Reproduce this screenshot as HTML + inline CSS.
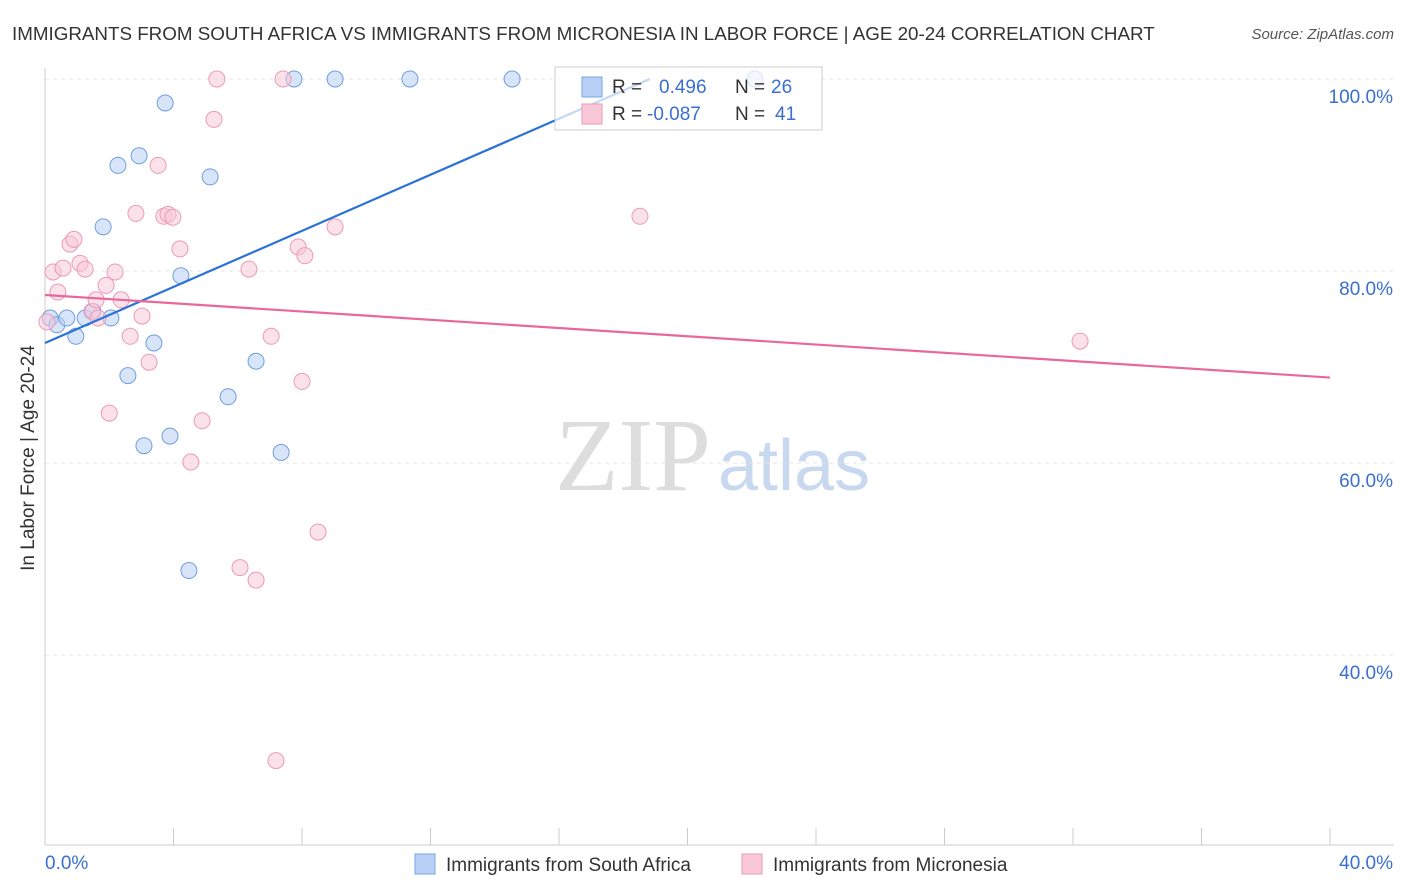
<!DOCTYPE html>
<html><head><meta charset="utf-8"><style>
body{margin:0;background:#fff;font-family:"Liberation Sans",sans-serif;}
#wrap{position:relative;width:1406px;height:892px;overflow:hidden;}
</style></head><body>
<div id="wrap">
<svg id="svg" width="1406" height="892" xmlns="http://www.w3.org/2000/svg">
<text x="12" y="40" font-size="18.8" fill="#333">IMMIGRANTS FROM SOUTH AFRICA VS IMMIGRANTS FROM MICRONESIA IN LABOR FORCE | AGE 20-24 CORRELATION CHART</text>
<text x="1394" y="39" font-size="15" fill="#555" font-style="italic" text-anchor="end">Source: ZipAtlas.com</text>
<text x="34" y="458" font-size="19" fill="#333" text-anchor="middle" transform="rotate(-90 34 458)">In Labor Force | Age 20-24</text>
<text x="555" y="490" font-size="104" fill="#ddd" font-family="Liberation Serif">ZIP</text>
<text x="718" y="490" font-size="72" fill="#c8d8ee">atlas</text>
<g id="grid"></g><g id="axes"></g><g id="pts"></g><g id="lines"></g>
<g>
<rect x="555" y="67" width="267" height="63" fill="#fff" fill-opacity="0.72" stroke="#ccc"/>
<rect x="582" y="77" width="20" height="20" fill="#b8d0f4" stroke="#7aa6e6"/>
<rect x="582" y="104" width="20" height="20" fill="#f8c8d8" stroke="#ec9ab6"/>
<text x="612" y="93" font-size="19" fill="#333">R =</text>
<text x="659" y="93" font-size="19" fill="#3a6fd0">0.496</text>
<text x="735" y="93" font-size="19" fill="#333">N =</text>
<text x="771" y="93" font-size="19" fill="#3a6fd0">26</text>
<text x="612" y="120" font-size="19" fill="#333">R =</text>
<text x="647" y="120" font-size="19" fill="#3a6fd0">-0.087</text>
<text x="735" y="120" font-size="19" fill="#333">N =</text>
<text x="775" y="120" font-size="19" fill="#3a6fd0">41</text>
</g>
<g>
<rect x="415" y="854" width="20" height="20" fill="#b8d0f4" stroke="#7aa6e6"/>
<text x="446" y="871" font-size="19" fill="#333">Immigrants from South Africa</text>
<rect x="742" y="854" width="20" height="20" fill="#f8c8d8" stroke="#ec9ab6"/>
<text x="773" y="871" font-size="19" fill="#333">Immigrants from Micronesia</text>
</g>
</svg></div>
<script>
const blueX=[0.16,0.37,0.68,0.96,1.25,1.49,1.81,2.05,2.27,2.58,2.93,3.08,3.39,3.74,3.89,4.23,4.48,5.14,5.70,6.57,7.35,7.75,9.03,11.36,14.54,22.1];
const blueY=[75.1,74.4,75.1,73.2,75.1,75.8,84.6,75.1,91.0,69.1,92.0,61.8,72.5,97.5,62.8,79.5,48.8,89.8,66.9,70.6,61.1,100,100,100,100,100];
const pinkX=[0.06,0.25,0.40,0.56,0.78,0.90,1.09,1.25,1.46,1.59,1.65,1.90,2.00,2.18,2.37,2.65,2.83,3.02,3.24,3.52,3.70,3.83,3.98,4.20,4.54,4.89,5.26,5.35,6.07,6.35,6.57,7.04,7.19,7.41,7.88,8.00,8.09,8.50,9.03,18.52,32.22];
const pinkY=[74.7,79.9,77.8,80.3,82.8,83.3,80.8,80.2,75.8,77.0,75.1,78.5,65.2,79.9,77.0,73.2,86.0,75.3,70.5,91.0,85.7,85.9,85.6,82.3,60.1,64.4,95.8,100,49.1,80.2,47.8,73.2,29.0,100,82.5,68.5,81.6,52.8,84.6,85.7,72.7];
const yTicks=[100,80,60,40];
const yTickLabels=["100.0%","80.0%","60.0%","40.0%"];
const xTickVals=[0,4,8,12,16,20,24,28,32,36,40];
const blueLine=[[0,72.5],[18.83,100]];
const pinkLine=[[0,77.5],[40,68.9]];
const NS="http://www.w3.org/2000/svg";
const sx=v=>45+v*32.125, sy=v=>79+(100-v)*9.6;
function mk(t,a,p){const e=document.createElementNS(NS,t);for(const k in a)e.setAttribute(k,a[k]);p.appendChild(e);return e;}
const grid=document.getElementById('grid'),axes=document.getElementById('axes'),pts=document.getElementById('pts'),lines=document.getElementById('lines');
yTicks.forEach((v,i)=>{
 const l=mk('line',{x1:45,x2:1394,y1:sy(v),y2:sy(v),stroke:'#e4e4e4','stroke-dasharray':'4,4'},grid);
 
 
 const t=mk('text',{x:1393,y:sy(v)+24,'font-size':19,fill:'#3a6fd0','text-anchor':'end'},grid);
 t.textContent=yTickLabels[i];
 
 
});
mk('line',{x1:45,x2:45,y1:68,y2:845,stroke:'#ccc'},axes);
mk('line',{x1:45,x2:1394,y1:845,y2:845,stroke:'#ccc'},axes);
xTickVals.forEach(v=>{const l=mk('line',{x1:sx(v),x2:sx(v),y1:828,y2:845,stroke:'#ccc'},axes);
 
 });
const x0=mk('text',{x:45,y:869,'font-size':19,fill:'#3a6fd0'},axes);x0.textContent='0.0%';


const x1=mk('text',{x:1393,y:869,'font-size':19,fill:'#3a6fd0','text-anchor':'end'},axes);x1.textContent='40.0%';


function dots(X,Y,fill,stroke,name){X.forEach((x,i)=>{const c=mk('circle',{cx:sx(x),cy:sy(Y[i]),r:8,fill:fill,'fill-opacity':0.55,stroke:stroke,'stroke-width':1},pts);
 
 });}
dots(blueX,blueY,'#b8d0f4','#6f9ee0','point-south-africa');
dots(pinkX,pinkY,'#f8c8d8','#ec9ab6','point-micronesia');
const bl=mk('line',{x1:sx(blueLine[0][0]),y1:sy(blueLine[0][1]),x2:sx(blueLine[1][0]),y2:sy(blueLine[1][1]),stroke:'#2a72d8','stroke-width':2.2},lines);


const pl=mk('line',{x1:sx(pinkLine[0][0]),y1:sy(pinkLine[0][1]),x2:sx(pinkLine[1][0]),y2:sy(pinkLine[1][1]),stroke:'#e8689a','stroke-width':2.2},lines);


</script>
</body></html>
